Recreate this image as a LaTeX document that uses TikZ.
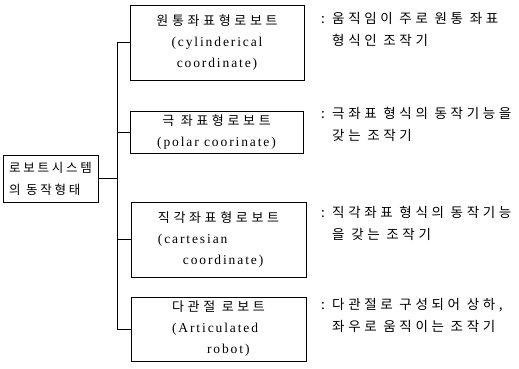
\documentclass[tikz,border=0pt]{standalone}
\usepackage{fontspec}
\setmainfont{Liberation Serif}[LetterSpace=14]
\newfontfamily\ko{Noto Sans CJK KR}[LetterSpace=28]
\newfontfamily\kor{Noto Sans CJK KR}[LetterSpace=22]
\newfontfamily\kod{Noto Sans CJK KR}[LetterSpace=27]
\begin{document}
\begin{tikzpicture}[x=1pt,y=1pt,
  box/.style={draw, line width=1pt, inner sep=0pt, font=\fontsize{13.5}{21}\selectfont},
  desc/.style={anchor=north west, inner sep=0pt, align=left, font=\kod\fontsize{13.5}{22}\selectfont},
  link/.style={line width=1pt}]
\useasboundingbox (0,0) rectangle (519,-369);
\node[box, minimum width=95pt, minimum height=47pt, align=left, font=\kor\fontsize{12.5}{22}\selectfont] (root) at (50.5,-178.5)
  {로보트시스템\\의 동작형태};
\node[box, minimum width=174pt, minimum height=74pt, align=center] (b1) at (217,-43)
  {\ko\fontsize{13}{21}\selectfont 원통좌표형로보트\\(cylinderical\\coordinate)};
\node[box, minimum width=173pt, minimum height=42pt, align=center] (b2) at (216.5,-132)
  {\ko\fontsize{13}{21}\selectfont 극 좌표형로보트\\(polar coorinate)};
\node[box, minimum width=175pt, minimum height=75pt, align=left] (b3) at (218.5,-239.5)
  {\ko\fontsize{13}{21}\selectfont 직각좌표형로보트\\(cartesian\\\hspace*{25pt}coordinate)};
\node[box, minimum width=175pt, minimum height=64pt, align=left] (b4) at (218.5,-329)
  {\ko\fontsize{13}{21}\selectfont 다관절 로보트\\(Articulated\\\hspace*{35pt}robot)};
\coordinate (bus) at (117,0);
\draw[link] (root.east) -- (root.east -| bus);
\draw[link] (b1.west) -- (b1.west -| bus) -- (b4.west -| bus) -- (b4.west);
\draw[link] (b2.west) -- (b2.west -| bus);
\draw[link] (b3.west) -- (b3.west -| bus);
\node[desc] (d1) at (321,-12) {\makebox[11pt][l]{:}움직임이 주로 원통 좌표\\\hspace*{11pt}형식인 조작기};
\node[desc] (d2) at (321,-107) {\makebox[11pt][l]{:}극좌표 형식의 동작기능을\\\hspace*{11pt}갖는 조작기};
\node[desc] (d3) at (321,-206) {\makebox[11pt][l]{:}직각좌표 형식의 동작기능\\\hspace*{11pt}을 갖는 조작기};
\node[desc] (d4) at (321,-298) {\makebox[11pt][l]{:}다관절로 구성되어 상하,\\\hspace*{11pt}좌우로 움직이는 조작기};
\end{tikzpicture}
\end{document}
